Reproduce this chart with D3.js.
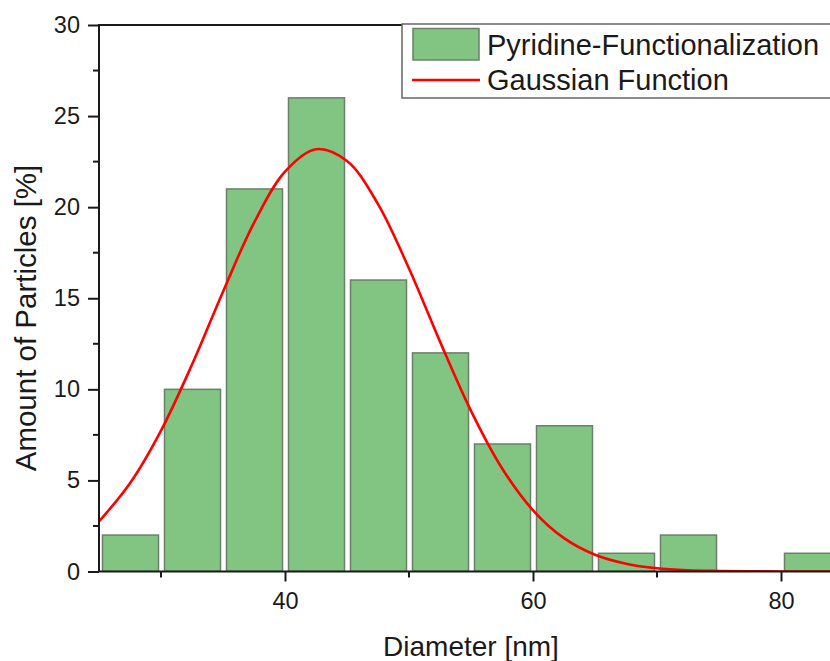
<!DOCTYPE html>
<html>
<head>
<meta charset="utf-8">
<script src="https://cdn.jsdelivr.net/npm/d3@7"></script>
<style>
  html, body { margin: 0; padding: 0; background: #fff; overflow: hidden; }
  text { font-family: "Liberation Sans", Arial, sans-serif; fill: #1a1a1a; }
</style>
</head>
<body>
<div id="chart"></div>
<script>
// ── Data ────────────────────────────────────────────────
const binStarts = [25, 30, 35, 40, 45, 50, 55, 60, 65, 70, 75, 80];
const binWidth  = 5;
const amounts   = [2, 10, 21, 26, 16, 12, 7, 8, 1, 2, 0, 1];

// gaussian fit curve
const fitX = [25, 27.5, 30, 32.5, 35, 37.5, 40, 42.5, 45, 47.5, 50, 52.5, 55,
              57.5, 60, 62.5, 65, 67.5, 70, 72.5, 75, 77.5, 80, 82.5, 85];
const fitY = [2.75, 4.84, 7.73, 11.36, 15.36, 19.14, 21.95, 23.18, 22.53, 20.17, 16.63, 12.62, 8.82,
              5.67, 3.36, 1.83, 0.92, 0.43, 0.18, 0.07, 0.03, 0.01, 0, 0, 0];

const xTicksMajor  = [40, 60, 80];
const xTicksMinor  = [30, 50, 70];
const yTicksMajor  = [0, 5, 10, 15, 20, 25, 30];
const yTicksMinor  = [2.5, 7.5, 12.5, 17.5, 22.5, 27.5];

const seriesNames = ['Pyridine-Functionalization', 'Gaussian Function'];

// ── Layout ──────────────────────────────────────────────
const W = 830, H = 661;
const plot = { left: 99, right: 843, top: 25, bottom: 571.5 };

const svg = d3.select('#chart').append('svg')
    .attr('width', W).attr('height', H);

const x = d3.scaleLinear().domain([25, 85]).range([plot.left, plot.right]);
const y = d3.scaleLinear().domain([0, 30]).range([plot.bottom, plot.top]);

svg.append('defs').append('clipPath').attr('id', 'plotClip')
    .append('rect')
    .attr('x', plot.left).attr('y', plot.top - 2)
    .attr('width', plot.right - plot.left).attr('height', plot.bottom - plot.top + 2);

const g = svg.append('g').attr('clip-path', 'url(#plotClip)');

// ── Bars ────────────────────────────────────────────────
const bars = binStarts.map((s, i) => ({ lo: s, hi: s + binWidth, v: amounts[i] }))
    .filter(d => d.v > 0);

g.selectAll('rect.bar')
    .data(bars)
    .join('rect')
    .attr('class', 'bar')
    .attr('x', d => x(d.lo) + 3.5)
    .attr('width', d => x(d.hi) - x(d.lo) - 6)
    .attr('y', d => y(d.v))
    .attr('height', d => y(0) - y(d.v))
    .attr('fill', '#82c582')
    .attr('stroke', '#6a806a')
    .attr('stroke-width', 1.5);

// ── Gaussian curve ──────────────────────────────────────
const line = d3.line()
    .x((d, i) => x(fitX[i]))
    .y(d => y(d))
    .curve(d3.curveCatmullRom.alpha(0.5));

g.append('path')
    .datum(fitY)
    .attr('d', line)
    .attr('fill', 'none')
    .attr('stroke', '#ff0000')
    .attr('stroke-width', 2.6);

// ── Axes ────────────────────────────────────────────────
const axisColor = '#1a1a1a';

const xAxis = d3.axisBottom(x).tickValues(xTicksMajor).tickSize(10).tickPadding(11)
    .tickFormat(d3.format('d'));
const xg = svg.append('g').attr('transform', `translate(0,${plot.bottom})`).call(xAxis);
xg.select('.domain').remove();
xg.selectAll('line').attr('stroke', axisColor).attr('stroke-width', 2);
xg.selectAll('text').style('font-size', '23.5px').attr('fill', axisColor);

svg.append('g').selectAll('line')
    .data(xTicksMinor).join('line')
    .attr('x1', d => x(d)).attr('x2', d => x(d))
    .attr('y1', plot.bottom).attr('y2', plot.bottom + 6)
    .attr('stroke', axisColor).attr('stroke-width', 2);

const yAxis = d3.axisLeft(y).tickValues(yTicksMajor).tickSize(11).tickPadding(8)
    .tickFormat(d3.format('d'));
const yg = svg.append('g').attr('transform', `translate(${plot.left},0)`).call(yAxis);
yg.select('.domain').remove();
yg.selectAll('line').attr('stroke', axisColor).attr('stroke-width', 2);
yg.selectAll('text').style('font-size', '23.5px').attr('fill', axisColor);

svg.append('g').selectAll('line')
    .data(yTicksMinor).join('line')
    .attr('x1', plot.left - 6).attr('x2', plot.left)
    .attr('y1', d => y(d)).attr('y2', d => y(d))
    .attr('stroke', axisColor).attr('stroke-width', 2);

// frame: left, bottom, top
svg.append('path')
    .attr('d', `M${plot.right},${plot.top}H${plot.left}V${plot.bottom}H${plot.right}`)
    .attr('fill', 'none')
    .attr('stroke', axisColor)
    .attr('stroke-width', 2);

// ── Axis titles ─────────────────────────────────────────
svg.append('text')
    .attr('x', (plot.left + plot.right) / 2)
    .attr('y', 656)
    .attr('text-anchor', 'middle')
    .style('font-size', '28px')
    .text('Diameter [nm]');

svg.append('text')
    .attr('transform', 'translate(36,318) rotate(-90)')
    .attr('text-anchor', 'middle')
    .style('font-size', '29.5px')
    .text('Amount of Particles [%]');

// ── Legend ──────────────────────────────────────────────
const lg = svg.append('g').attr('transform', 'translate(402,24)');
lg.append('rect')
    .attr('x', 0).attr('y', 0)
    .attr('width', 460).attr('height', 74)
    .attr('fill', '#fff')
    .attr('stroke', '#666')
    .attr('stroke-width', 1.5);
lg.append('rect')
    .attr('x', 11).attr('y', 4.5)
    .attr('width', 66).attr('height', 31.5)
    .attr('fill', '#82c582')
    .attr('stroke', '#6a806a')
    .attr('stroke-width', 1.5);
lg.append('line')
    .attr('x1', 10).attr('x2', 78)
    .attr('y1', 56).attr('y2', 56)
    .attr('stroke', '#ff0000')
    .attr('stroke-width', 2.6);
lg.selectAll('text.leg')
    .data(seriesNames)
    .join('text')
    .attr('class', 'leg')
    .attr('x', 85)
    .attr('y', (d, i) => 31 + i * 35)
    .style('font-size', '29px')
    .text(d => d);
</script>
</body>
</html>
